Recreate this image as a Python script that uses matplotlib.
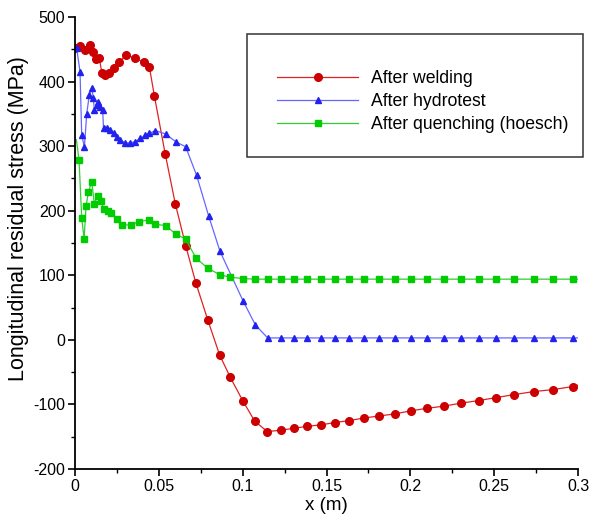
import numpy as np
import matplotlib
matplotlib.use('Agg')
import matplotlib.pyplot as plt
from matplotlib.patches import Rectangle
from matplotlib.ticker import MultipleLocator

plt.rcParams['font.family'] = ['Liberation Sans', 'DejaVu Sans']
plt.rcParams['axes.unicode_minus'] = False

# common mesh on the flat right-hand part
x_tail = [0.1226, 0.1304, 0.1382, 0.1468, 0.1551, 0.1636, 0.1724, 0.1811, 0.1910,
          0.2001, 0.2100, 0.2199, 0.2303, 0.2408, 0.2512, 0.2621, 0.2738, 0.2853,
          0.2968, 0.3]

# after welding
x_weld = [0, 0.003, 0.006, 0.009, 0.011, 0.0126, 0.0145, 0.016, 0.018, 0.020, 0.023,
          0.0265, 0.0305, 0.036, 0.041, 0.0444, 0.0474, 0.0538, 0.0598, 0.0661, 0.0721,
          0.0793, 0.0862, 0.0926, 0.1000, 0.1072, 0.1147] + x_tail
y_weld = [452, 455, 449, 457, 446, 435, 436, 414, 410, 414, 421,
          431, 441, 436, 430, 422, 377, 288, 211, 145, 88,
          30, -23, -58, -94, -126, -142,
          -140, -137, -134, -131.6, -128, -125, -121, -118, -114.6,
          -110, -106, -102.7, -98, -94, -89.4, -84.7, -80, -77, -72.3, -70]

# after hydrotest
x_hydro = [0.001, 0.003, 0.004, 0.0056, 0.007, 0.0085, 0.010, 0.011, 0.0115, 0.013,
           0.014, 0.015, 0.0165, 0.017, 0.019, 0.021, 0.023, 0.025, 0.027, 0.030,
           0.033, 0.036, 0.039, 0.042, 0.0444, 0.048, 0.054, 0.060, 0.066, 0.0725,
           0.0797, 0.0865, 0.1003, 0.1076, 0.1149] + x_tail
y_hydro = [452, 415, 317, 299, 350, 379, 390, 374, 356, 364,
           369, 361, 356, 328, 328, 325, 320, 314, 309, 305,
           305, 307, 312, 317, 320, 324, 319, 307, 299, 255,
           192, 137, 60, 23, 3] + [3] * len(x_tail)

# after quenching (hoesch)
x_quench = [0.0008, 0.0024, 0.004, 0.0054, 0.0066, 0.008, 0.010, 0.0115, 0.0135, 0.0153,
            0.0173, 0.0195, 0.0213, 0.0249, 0.0283, 0.0333, 0.0382, 0.0444, 0.048, 0.054,
            0.060, 0.066, 0.0723, 0.0793, 0.0862, 0.0926, 0.1000, 0.1072, 0.1149] + x_tail
y_quench = [310, 279, 189, 156, 207, 229, 245, 211, 223, 215,
            203, 200, 197, 187, 178, 178, 183, 186, 179, 177,
            164, 156, 126, 111, 101, 97, 95, 94, 94] + [94] * len(x_tail)

labels = ['After welding', 'After hydrotest', 'After quenching (hoesch)']

fig = plt.figure(figsize=(5.95, 5.23), dpi=100)
ax = fig.add_axes([75/595, 54/523, 503/595, 452/523])

ax.plot(x_weld, y_weld, color='#dd2222', lw=0.9, marker='o', ms=5.5,
        mfc='#cc0000', mec='#cc0000', markevery=slice(0, len(x_weld)-1), label=labels[0])
ax.plot(x_hydro, y_hydro, color='#6666ff', lw=0.9, marker='^', ms=4,
        mfc='#2222ee', mec='#2222ee', markevery=slice(0, len(x_hydro)-1), label=labels[1])
ax.plot(x_quench, y_quench, color='#33cc33', lw=0.9, marker='s', ms=4.2,
        mfc='#00cc00', mec='#00cc00', markevery=list(range(1, len(x_quench)-1)), label=labels[2])

ax.set_xlim(0, 0.3)
ax.set_ylim(-200, 500)
ax.xaxis.set_major_locator(MultipleLocator(0.05))
ax.xaxis.set_minor_locator(MultipleLocator(0.025))
ax.yaxis.set_major_locator(MultipleLocator(100))
ax.yaxis.set_minor_locator(MultipleLocator(50))
ax.set_xticks([0, 0.05, 0.1, 0.15, 0.2, 0.25, 0.3])
ax.set_xticklabels(['0', '0.05', '0.1', '0.15', '0.2', '0.25', '0.3'])
ax.tick_params(which='major', direction='out', length=5, width=1.2, labelsize=11.5, pad=2)
ax.tick_params(which='minor', direction='out', length=3, width=1)
for s in ['top', 'right']:
    ax.spines[s].set_visible(False)
for s in ['left', 'bottom']:
    ax.spines[s].set_linewidth(1.3)

ax.set_xlabel('x (m)', fontsize=13.5, labelpad=2)
ax.set_ylabel('Longitudinal residual stress (MPa)', fontsize=15.5, labelpad=3)
ax.yaxis.label.set_y(0.553)

# legend frame
ax.add_patch(Rectangle((172/503, 312/452), 336/503, 123/452, transform=ax.transAxes,
                       fill=False, ec='#333333', lw=1.1, clip_on=False))
ax.legend(loc='upper left', bbox_to_anchor=(276.7/595, 1 - 70.4/523),
          bbox_transform=fig.transFigure, frameon=False, borderpad=0, borderaxespad=0,
          fontsize=12.7, handlelength=4.63, handletextpad=0.72, labelspacing=0.34,
          markerscale=1.0)

fig.savefig('out.png', dpi=100)
